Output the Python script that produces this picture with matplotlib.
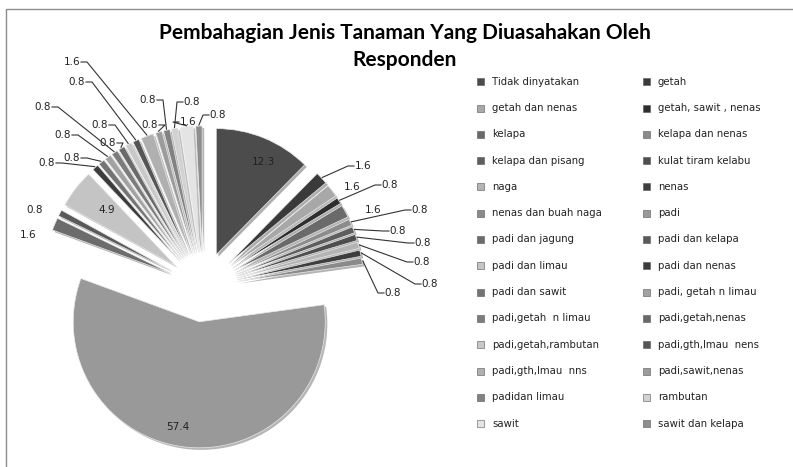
import matplotlib.pyplot as plt
import matplotlib.patheffects as pe
from matplotlib.patches import Rectangle
import numpy as np

categories = [
    "Tidak dinyatakan", "getah", "getah dan nenas", "getah, sawit , nenas",
    "kelapa", "kelapa dan nenas", "kelapa dan pisang", "kulat tiram kelabu",
    "naga", "nenas", "nenas dan buah naga", "padi",
    "padi dan jagung", "padi dan kelapa", "padi dan limau", "padi dan nenas",
    "padi dan sawit", "padi, getah n limau", "padi,getah  n limau", "padi,getah,nenas",
    "padi,getah,rambutan", "padi,gth,lmau  nens", "padi,gth,lmau  nns", "padi,sawit,nenas",
    "padidan limau", "rambutan", "sawit", "sawit dan kelapa",
]
values = [
    12.3, 1.6, 1.6, 0.8,
    1.6, 0.8, 0.8, 0.8,
    0.8, 0.8, 0.8, 57.4,
    1.6, 0.8, 4.9, 0.8,
    0.8, 0.8, 0.8, 0.8,
    0.8, 0.8, 1.6, 0.8,
    0.8, 0.8, 1.6, 0.8,
]
grays = [
    "#4c4c4c", "#3a3a3a", "#a8a8a8", "#2e2e2e",
    "#6a6a6a", "#8c8c8c", "#5e5e5e", "#4e4e4e",
    "#b4b4b4", "#3e3e3e", "#8a8a8a", "#999999",
    "#6c6c6c", "#5a5a5a", "#c4c4c4", "#3c3c3c",
    "#747474", "#a2a2a2", "#7c7c7c", "#6a6a6a",
    "#c8c8c8", "#555555", "#b0b0b0", "#9c9c9c",
    "#828282", "#d2d2d2", "#e4e4e4", "#8e8e8e",
]

# label layout in image pixels (x, y from top)
label_pos = [
    (263, 162), (363, 166), (352, 187), (390, 185),
    (373, 210), (420, 210), (398, 231), (423, 243),
    (422, 262), (430, 284), (393, 293), (178, 427),
    (28, 235), (35, 210), (107, 210), (47, 163),
    (72, 158), (63, 135), (43, 107), (108, 143),
    (100, 125), (77, 82), (72, 62), (150, 125),
    (148, 100), (192, 102), (188, 122), (218, 115),
]
no_leader = {0, 2, 4, 11, 12, 13, 14}

W, H = 793, 467
fig = plt.figure(figsize=(W / 100, H / 100), dpi=100)
ax = fig.add_axes([0, 0, 1, 1])

def iy(y):
    return H - y

cx, cy, r = 203, iy(287), 126
wedges, _ = ax.pie(values, colors=grays, startangle=90, counterclock=False,
                   explode=[35] * len(values), center=(cx, cy), radius=r,
                   wedgeprops=dict(edgecolor="#e8e8e8", linewidth=0.5))
for w in wedges:
    w.set_path_effects([pe.SimplePatchShadow(offset=(1.5, -1.5), alpha=0.35),
                        pe.Normal()])
ax.set_xlim(0, W)
ax.set_ylim(0, H)
ax.set_aspect("equal")
ax.axis("off")

for i, w in enumerate(wedges):
    lx, ly = label_pos[i]
    ly = iy(ly)
    ax.text(lx, ly, f"{values[i]:.1f}", ha="center", va="center",
            fontsize=7.5, color="#222222", zorder=5)
    if i in no_leader:
        continue
    mid = np.deg2rad((w.theta1 + w.theta2) / 2)
    px = w.center[0] + (w.r + 1) * np.cos(mid)
    py = w.center[1] + (w.r + 1) * np.sin(mid)
    sign = 1 if px > lx else -1
    ex = lx + sign * 9
    elbow = ex + sign * 6
    ax.plot([ex, elbow, px], [ly, ly, py], color="#333333", lw=0.8, zorder=4)

# legend
for i, name in enumerate(categories):
    row, col = divmod(i, 2)
    mx = 477 if col == 0 else 643
    my = 81.7 + 26.3 * row
    ax.add_patch(Rectangle((mx, iy(my) - 3.5), 7, 7, facecolor=grays[i],
                           edgecolor="#555555", linewidth=0.4))
    ax.text(mx + 15, iy(my), name, ha="left", va="center", fontsize=7.3,
            color="#222222")

ax.text(405, iy(33), "Pembahagian Jenis Tanaman Yang Diuasahakan Oleh",
        ha="center", va="center", fontsize=15, fontweight="bold", family="Lato")
ax.text(405, iy(60), "Responden", ha="center", va="center", fontsize=15,
        fontweight="bold", family="Lato")

ax.plot([5.5, 5.5, W], [0, iy(8.5), iy(8.5)], color="#8c8c8c", lw=1, clip_on=False)

fig.savefig("out.png", dpi=100)
